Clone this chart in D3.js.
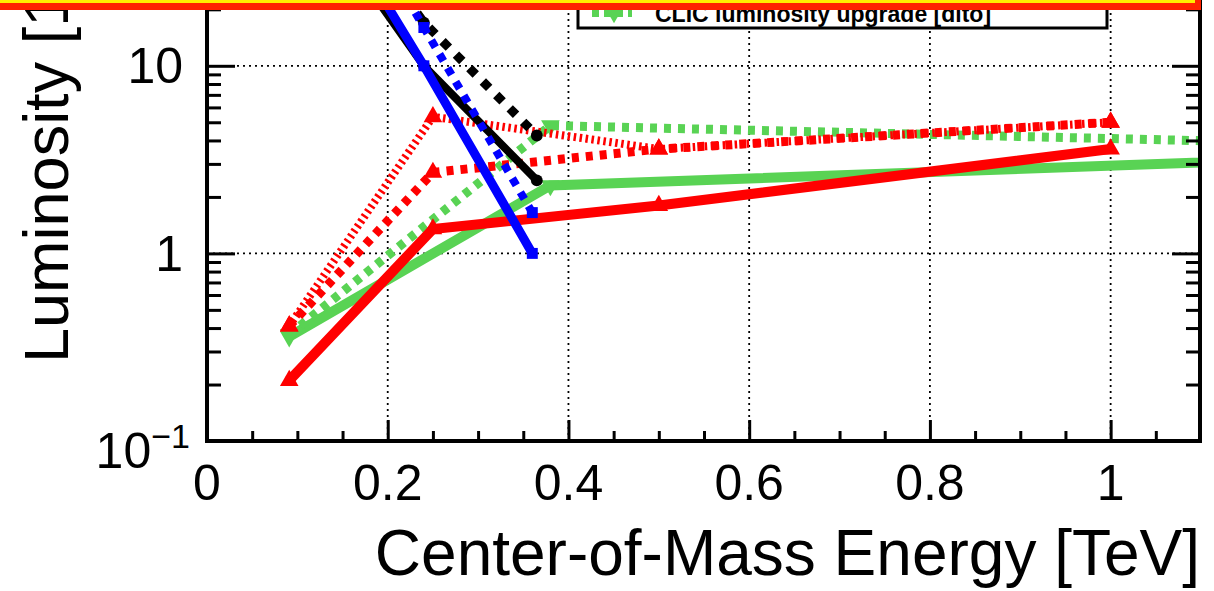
<!DOCTYPE html>
<html><head><meta charset="utf-8">
<script src="https://cdn.jsdelivr.net/npm/d3@7"></script>
<style>html,body{margin:0;padding:0;background:#fff;overflow:hidden}svg{display:block}</style>
</head><body>
<script>
// ---- data ----
const energyILC   = [0.091, 0.25, 0.5, 1.0];
const ilcBaseline = [0.21, 1.35, 1.8, 3.6];
const ilcUpgrade  = [0.41, 2.7, 3.6, 5.0];
const ilcUpgrade2 = [0.41, 5.35, 3.6, 5.0];
const energyCLIC   = [0.091, 0.38, 1.5];
const clicBaseline = [0.36, 2.3, 3.57];
const clicUpgrade  = [0.37, 4.8, 3.6];
const energyFCC   = [0.16, 0.24, 0.36];
const fccBaseline = [43, 10, 1.0];
const fccUpgrade  = [75, 16, 1.65];
const energyCEPC   = [0.16, 0.24, 0.365];
const cepcBaseline = [35, 10, 2.45];
const cepcUpgrade  = [60, 17, 4.25];
const xMajorTicks = [0, 0.2, 0.4, 0.6, 0.8, 1];
const xTickLabels = ["0", "0.2", "0.4", "0.6", "0.8", "1"];
const yMajorTicks = [0.1, 1, 10];
const legendLabel = "CLIC luminosity upgrade [dito]";
const xTitle = "Center-of-Mass Energy [TeV]";

const W = 1214, H = 591;
const svg = d3.select("body").append("svg").attr("width", W).attr("height", H)
  .style("font-family", "'Liberation Sans', Arial, Helvetica, sans-serif");

const x = d3.scaleLinear().domain([0, 1.1]).range([207, 1201]);
const y = d3.scaleLog().domain([0.1, 100]).range([441, 441 - 3 * 187.6]);

const pL = x(0), pR = 1200, pB = y(0.1), pT = y(100);

svg.append("defs").append("clipPath").attr("id", "plot")
  .append("rect").attr("x", pL).attr("y", pT).attr("width", pR - pL).attr("height", pB - pT);

// grid
const grid = svg.append("g").attr("stroke", "#000").attr("stroke-width", 1.8).attr("stroke-dasharray", "2,4");
xMajorTicks.filter(d => d > 0).forEach(d => grid.append("line")
  .attr("x1", x(d)).attr("x2", x(d)).attr("y1", pB).attr("y2", pT));
yMajorTicks.filter(d => d > 0.1).forEach(d => grid.append("line")
  .attr("x1", pL).attr("x2", pR).attr("y1", y(d)).attr("y2", y(d)));

// series
const series = [
  {xs: energyCLIC, ys: clicBaseline, color: "#59d354", w: 10, dash: null, marker: "down"},
  {xs: energyCLIC, ys: clicUpgrade, color: "#59d354", w: 9, dash: "7,7", marker: "down"},
  {xs: energyILC, ys: ilcUpgrade2, color: "#ff0000", w: 8, dash: "2.5,3.5", marker: "up"},
  {xs: energyILC, ys: ilcUpgrade, color: "#ff0000", w: 9, dash: "7,7", marker: "up"},
  {xs: energyILC, ys: ilcBaseline, color: "#ff0000", w: 10, dash: null, marker: "up"},
  {xs: energyCEPC, ys: cepcUpgrade, color: "#000000", w: 9, dash: "9,10", marker: "circle"},
  {xs: energyCEPC, ys: cepcBaseline, color: "#000000", w: 8, dash: null, marker: "circle"},
  {xs: energyFCC, ys: fccUpgrade, color: "#0000ff", w: 8, dash: "8,8", marker: "square"},
  {xs: energyFCC, ys: fccBaseline, color: "#0000ff", w: 9, dash: null, marker: "square"},
];
const plot = svg.append("g").attr("clip-path", "url(#plot)");
const line = d3.line().x(d => x(d[0])).y(d => y(d[1]));
const symType = {up: d3.symbolTriangle, down: d3.symbolTriangle, square: d3.symbolSquare, circle: d3.symbolCircle};
const symSize = {up: 150, down: 150, square: 120, circle: 110};
series.forEach(s => {
  const pts = s.xs.map((v, i) => [v, s.ys[i]]);
  plot.append("path").attr("d", line(pts)).attr("fill", "none")
    .attr("stroke", s.color).attr("stroke-width", s.w)
    .attr("stroke-dasharray", s.dash);
  plot.selectAll(null).data(pts).enter().append("path")
    .attr("d", d3.symbol().type(symType[s.marker]).size(symSize[s.marker]))
    .attr("transform", d => `translate(${x(d[0])},${y(d[1])})` + (s.marker === "down" ? " rotate(180)" : ""))
    .attr("fill", s.color);
});

// axes ticks (inward) through d3 axes
const xMinor = d3.range(0.05, 1.1, 0.05).filter(v => Math.abs(v / 0.2 - Math.round(v / 0.2)) > 1e-6);
function styleAxis(g) { g.select(".domain").remove(); g.selectAll("text").remove();
  g.selectAll("line").attr("stroke", "#000").attr("stroke-width", 3); }
svg.append("g").attr("transform", `translate(0,${pB})`)
  .call(d3.axisBottom(x).tickValues(xMajorTicks.filter(d => d > 0)).tickSize(-21)).call(styleAxis);
svg.append("g").attr("transform", `translate(0,${pB})`)
  .call(d3.axisBottom(x).tickValues(xMinor).tickSize(-10)).call(styleAxis);

const yMinor = [];
[0.1, 1, 10].forEach(dec => { for (let k = 2; k <= 9; k++) yMinor.push(dec * k); });
svg.append("g").attr("transform", `translate(${pL},0)`)
  .call(d3.axisLeft(y).tickValues([1, 10]).tickSize(-28)).call(styleAxis);
svg.append("g").attr("transform", `translate(${pL},0)`)
  .call(d3.axisLeft(y).tickValues(yMinor).tickSize(-14)).call(styleAxis);
svg.append("g").attr("transform", `translate(${pR},0)`)
  .call(d3.axisRight(y).tickValues([1, 10]).tickSize(-28)).call(styleAxis);
svg.append("g").attr("transform", `translate(${pR},0)`)
  .call(d3.axisRight(y).tickValues(yMinor).tickSize(-14)).call(styleAxis);

// frame
const frame = svg.append("g").attr("stroke", "#000").attr("stroke-width", 4).attr("fill", "none");
frame.append("line").attr("x1", pL).attr("x2", pL).attr("y1", pT).attr("y2", pB + 2);
frame.append("line").attr("x1", pL - 2).attr("x2", pR + 2).attr("y1", pB).attr("y2", pB);
frame.append("line").attr("x1", pR).attr("x2", pR).attr("y1", pT).attr("y2", pB + 2);

// tick labels
svg.selectAll(null).data(xMajorTicks).enter().append("text")
  .attr("x", d => x(d)).attr("y", 500).attr("text-anchor", "middle")
  .attr("font-size", 50).text((d, i) => xTickLabels[i]);
svg.append("text").attr("x", 183).attr("y", y(10) + 17.5).attr("text-anchor", "end").attr("font-size", 50).text("10");
svg.append("text").attr("x", 183).attr("y", y(1) + 17.5).attr("text-anchor", "end").attr("font-size", 50).text("1");
const t01 = svg.append("text").attr("x", 190).attr("y", y(0.1) + 27).attr("text-anchor", "end").attr("font-size", 50);
t01.append("tspan").text("10");
t01.append("tspan").attr("dy", -20).attr("font-size", 34).text("\u22121");

// titles
svg.append("text").attr("x", 1200).attr("y", 575).attr("text-anchor", "end").attr("font-size", 64).text(xTitle);
const yt = svg.append("text").attr("transform", "translate(68,363) rotate(-90)").attr("font-size", 63);
yt.append("tspan").text("Luminosity [10");
yt.append("tspan").attr("dy", -24).attr("font-size", 42).text("34");
yt.append("tspan").attr("dy", 24).text(" cm");
yt.append("tspan").attr("dy", -24).attr("font-size", 42).text("\u22122");
yt.append("tspan").attr("dy", 24).text(" s");
yt.append("tspan").attr("dy", -24).attr("font-size", 42).text("\u22121");
yt.append("tspan").attr("dy", 24).text("]");

// legend (mostly above the visible area)
const lg = svg.append("g");
lg.append("rect").attr("x", 578).attr("y", -60).attr("width", 1107 - 578).attr("height", 88)
  .attr("fill", "#fff").attr("stroke", "#000").attr("stroke-width", 3);
lg.append("line").attr("x1", 592).attr("x2", 632).attr("y1", 13).attr("y2", 13)
  .attr("stroke", "#59d354").attr("stroke-width", 8).attr("stroke-dasharray", "7,5");
lg.append("path").attr("d", d3.symbol().type(d3.symbolTriangle).size(110))
  .attr("transform", "translate(614,14) rotate(180)").attr("fill", "#59d354");
lg.append("text").attr("x", 655).attr("y", 22).attr("font-size", 23).attr("font-weight", "bold").text(legendLabel);

// highlight banner at top edge
svg.append("rect").attr("x", 0).attr("y", 0).attr("width", 1196).attr("height", 3).attr("fill", "#ffee00");
svg.append("rect").attr("x", 0).attr("y", 3).attr("width", 1196).attr("height", 7).attr("fill", "#ff2200");
svg.append("rect").attr("x", 1195).attr("y", 0).attr("width", 6).attr("height", 10).attr("fill", "#ff2200");
</script>
</body></html>
